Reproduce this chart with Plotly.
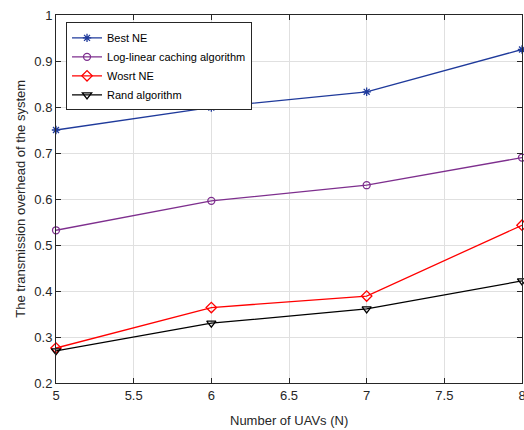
import plotly.graph_objects as go

n_uavs = [5, 6, 7, 8]
best_ne = [0.750, 0.799, 0.833, 0.925]
log_linear = [0.532, 0.596, 0.630, 0.690]
worst_ne = [0.276, 0.364, 0.389, 0.543]
rand_alg = [0.270, 0.330, 0.361, 0.422]

series_names = ["Best NE", "Log-linear caching algorithm", "Wosrt NE", "Rand algorithm"]
x_ticks = [5, 5.5, 6, 6.5, 7, 7.5, 8]
x_tick_text = ["5", "5.5", "6", "6.5", "7", "7.5", "8"]
y_ticks = [0.2, 0.3, 0.4, 0.5, 0.6, 0.7, 0.8, 0.9, 1.0]
y_tick_text = ["0.2", "0.3", "0.4", "0.5", "0.6", "0.7", "0.8", "0.9", "1"]

styles = [
    dict(color="#1f3a9b", symbol="asterisk-open", size=7),
    dict(color="#7e2f8e", symbol="circle-open", size=7),
    dict(color="#ff0000", symbol="diamond-open", size=8),
    dict(color="#000000", symbol="triangle-down-open", size=8),
]

fig = go.Figure()
for name, ys, st in zip(series_names, [best_ne, log_linear, worst_ne, rand_alg], styles):
    fig.add_trace(go.Scatter(
        x=n_uavs, y=ys, name=name, mode="lines+markers",
        line=dict(color=st["color"], width=1.3),
        marker=dict(symbol=st["symbol"], size=st["size"], color=st["color"],
                    line=dict(color=st["color"], width=1.3)),
        cliponaxis=False,
    ))

font_family = "Liberation Sans, Arial, sans-serif"
axis_color = "#262626"

fig.update_layout(
    width=524, height=430,
    margin=dict(l=56, r=2, t=15, b=47),
    paper_bgcolor="white", plot_bgcolor="white",
    font=dict(family=font_family, size=13, color=axis_color),
    showlegend=True,
    legend=dict(
        x=0.0215, y=0.98, xanchor="left", yanchor="top",
        bgcolor="white", bordercolor=axis_color, borderwidth=1,
        font=dict(family=font_family, size=11, color="#000000"),
        tracegroupgap=0, itemwidth=30,
    ),
    xaxis=dict(
        range=[5, 8], tickvals=x_ticks, ticktext=x_tick_text,
        showgrid=True, gridcolor="#e0e0e0", gridwidth=1,
        showline=True, linecolor=axis_color, linewidth=1, mirror="allticks",
        ticks="inside", ticklen=5, tickcolor=axis_color,
        zeroline=False, automargin=False, ticklabeloverflow="allow",
        tickfont=dict(size=13, color=axis_color),
    ),
    yaxis=dict(
        range=[0.2, 1.0], tickvals=y_ticks, ticktext=y_tick_text,
        showgrid=True, gridcolor="#e0e0e0", gridwidth=1,
        showline=True, linecolor=axis_color, linewidth=1, mirror="allticks",
        ticks="inside", ticklen=5, tickcolor=axis_color,
        zeroline=False, automargin=False, ticklabeloverflow="allow",
        tickfont=dict(size=13, color=axis_color),
    ),
    annotations=[
        dict(text="Number of UAVs (N)", xref="paper", yref="paper",
             x=0.5, y=-0.075, xanchor="center", yanchor="top", showarrow=False,
             font=dict(size=13, color=axis_color)),
        dict(text="The transmission overhead of the system", xref="paper", yref="paper",
             x=-0.078, y=0.5, xanchor="center", yanchor="middle", showarrow=False,
             textangle=-90, font=dict(size=13, color=axis_color)),
    ],
)

fig.write_html(
    "out.html",
    config={"displayModeBar": False},
    post_script="document.body.style.margin='0';document.body.style.overflow='hidden';",
)
